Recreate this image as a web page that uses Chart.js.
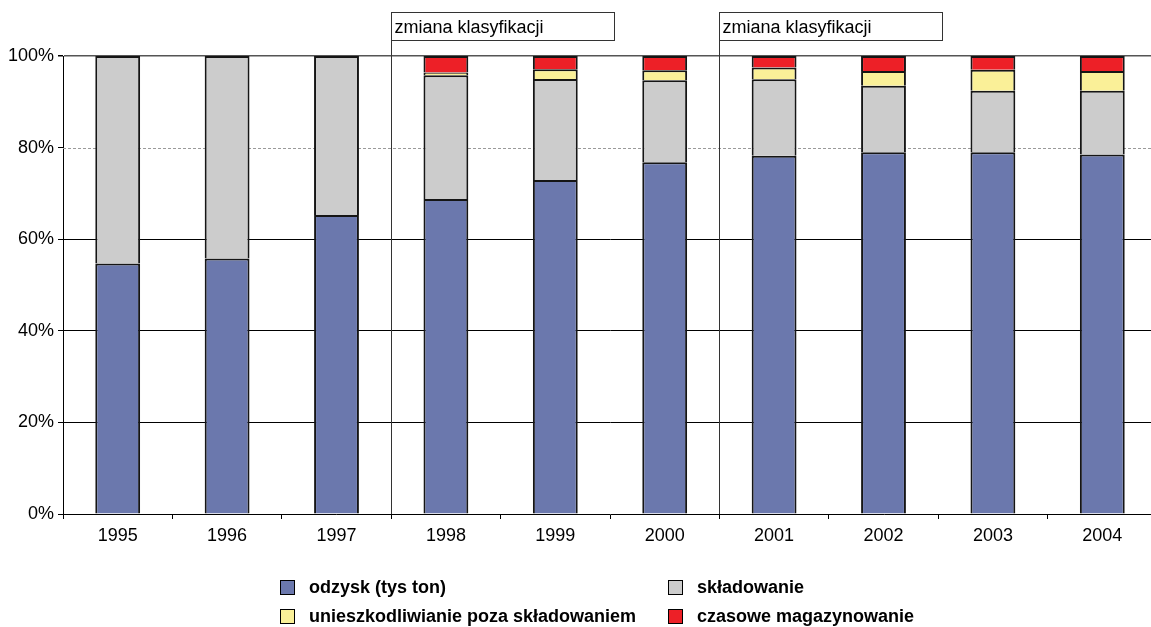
<!DOCTYPE html>
<html>
<head>
<meta charset="utf-8">
<script src="https://cdn.jsdelivr.net/npm/chart.js@4"></script>
<style>
  body { margin: 0; background: #fff; overflow: hidden; }
  #wrap { position: absolute; left: 0; top: 0; width: 1160px; height: 627px; }
  .leg { position: absolute; font: bold 18px "Liberation Sans", Arial, sans-serif; color: #000; white-space: nowrap; line-height: 20px; }
  .leg span.box { position: absolute; left: 0; top: 0; width: 13px; height: 13px; border: 1px solid #000; }
  .leg span.txt { position: absolute; left: 29px; top: -3px; }
</style>
</head>
<body>
<div id="wrap"><canvas id="odpadyChart" width="1160" height="627"></canvas></div>
<div id="legend"></div>
<script>
// lata i udzialy procentowe
const years = ["1995", "1996", "1997", "1998", "1999", "2000", "2001", "2002", "2003", "2004"];
const odzysk = [54.7, 55.8, 65.3, 68.8, 72.9, 76.8, 78.2, 79.0, 79.0, 78.5];
const skladowanie = [45.3, 44.2, 34.7, 27.0, 22.1, 17.9, 16.7, 14.5, 13.4, 13.9];
const unieszkodliwianie = [0, 0, 0, 0.6, 2.1, 2.2, 2.6, 3.2, 4.6, 4.3];
const magazynowanie = [0, 0, 0, 3.6, 2.9, 3.1, 2.5, 3.3, 3.0, 3.3];
const yTicks = [0, 20, 40, 60, 80, 100];
// zmiana klasyfikacji przed tymi latami
const changeYears = ["1998", "2001"];
const changeLabel = "zmiana klasyfikacji";

const FONT = '"Liberation Sans", Arial, sans-serif';

// linie i ramki "zmiana klasyfikacji" + przerywana linia 80%
const annotations = {
    id: 'annotations',
    beforeDatasetsDraw(chart) {
        const c = chart.ctx, y = chart.scales.y, a = chart.chartArea;
        const py = Math.round(y.getPixelForValue(80)) + 0.5;
        c.save();
        c.strokeStyle = '#9a9a9a';
        c.lineWidth = 1;
        c.setLineDash([3, 2]);
        c.beginPath();
        c.moveTo(a.left, py);
        c.lineTo(a.right, py);
        c.stroke();
        c.restore();
    },
    afterDraw(chart) {
        const c = chart.ctx, x = chart.scales.x, a = chart.chartArea;
        c.save();
        c.font = '18px ' + FONT;
        changeYears.forEach(yr => {
            const i = years.indexOf(yr);
            const px = Math.round((x.getPixelForValue(i - 1) + x.getPixelForValue(i)) / 2) + 0.5;
            c.strokeStyle = '#333';
            c.lineWidth = 1;
            c.beginPath();
            c.moveTo(px, 12);
            c.lineTo(px, a.bottom);
            c.stroke();
            c.fillStyle = '#fff';
            c.fillRect(px, 12.5, 223, 28);
            c.strokeRect(px, 12.5, 223, 28);
            c.fillStyle = '#000';
            c.textBaseline = 'alphabetic';
            c.fillText(changeLabel, px + 3, 33);
        });
        c.restore();
    }
};

const ctx = document.getElementById('odpadyChart').getContext('2d');
const chart = new Chart(ctx, {
    type: 'bar',
    data: {
        labels: years,
        datasets: [
            { label: 'odzysk (tys ton)', data: odzysk, backgroundColor: '#6B78AD' },
            { label: 'składowanie', data: skladowanie, backgroundColor: '#CCCCCC' },
            { label: 'unieszkodliwianie poza składowaniem', data: unieszkodliwianie, backgroundColor: '#FAF098' },
            { label: 'czasowe magazynowanie', data: magazynowanie, backgroundColor: '#ED2027' }
        ]
    },
    options: {
        responsive: false,
        animation: false,
        layout: { padding: { top: 56, left: 0, right: 3, bottom: 73 } },
        datasets: {
            bar: {
                borderColor: '#151515',
                borderWidth: 2,
                barPercentage: 0.41,
                categoryPercentage: 1.0
            }
        },
        plugins: {
            legend: { display: false },
            tooltip: { enabled: false }
        },
        scales: {
            x: {
                stacked: true,
                afterFit: s => { s.height = 40; },
                border: { color: '#000', width: 1 },
                grid: { offset: true, drawOnChartArea: false, tickLength: 5, tickColor: '#000' },
                ticks: { color: '#000', font: { family: FONT, size: 18 }, padding: 6 }
            },
            y: {
                stacked: true,
                min: 0,
                max: 100,
                afterFit: s => { s.width = 63; },
                afterBuildTicks: s => { s.ticks = yTicks.map(v => ({ value: v })); },
                border: { color: '#000', width: 1 },
                grid: {
                    tickLength: 5,
                    tickColor: '#000',
                    color: c => {
                        const v = c.tick ? c.tick.value : null;
                        if (v === 100) return '#555';
                        if (v === 80 || v === 0) return 'rgba(0,0,0,0)';
                        return '#000';
                    },
                    lineWidth: c => (c.tick && c.tick.value === 100 ? 1.5 : 1)
                },
                ticks: {
                    color: '#000',
                    font: { family: FONT, size: 18 },
                    padding: 4,
                    callback: v => v + '%'
                }
            }
        }
    },
    plugins: [annotations]
});

// legenda 2x2
const legendPos = [[280, 580], [668, 580], [280, 609], [668, 609]];
const legendEl = document.getElementById('legend');
chart.data.datasets.forEach((ds, i) => {
    const d = document.createElement('div');
    d.className = 'leg';
    d.style.left = legendPos[i][0] + 'px';
    d.style.top = legendPos[i][1] + 'px';
    d.innerHTML = '<span class="box" style="background:' + ds.backgroundColor + '"></span><span class="txt"></span>';
    d.querySelector('.txt').textContent = ds.label;
    legendEl.appendChild(d);
});
</script>
</body>
</html>
